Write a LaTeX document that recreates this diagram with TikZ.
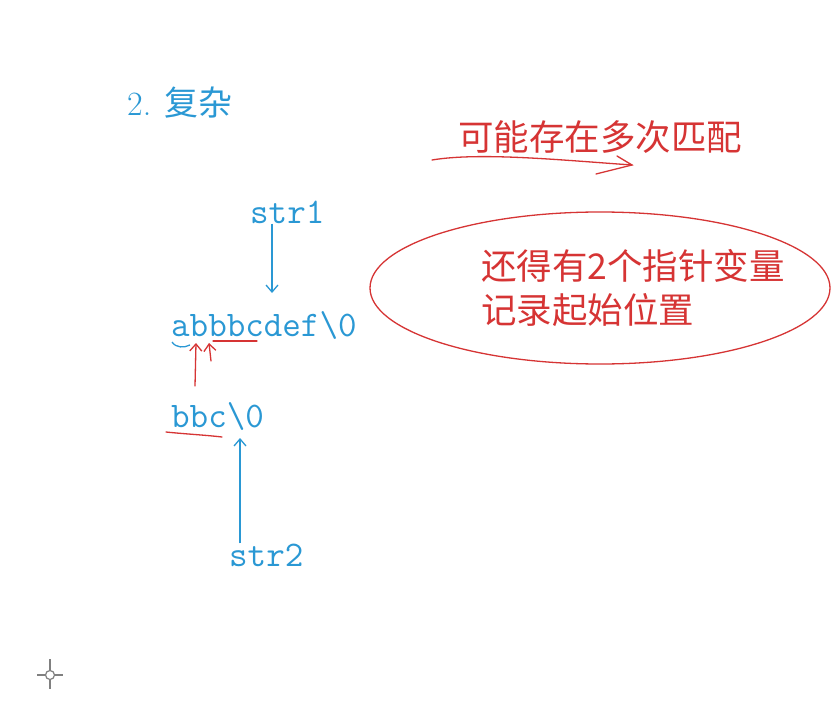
\documentclass[tikz,border=0pt]{standalone}
\usepackage{fontspec}
\newfontfamily\cjk{Noto Sans CJK SC}
\usepackage{tikz}
\usetikzlibrary{arrows.meta,shapes.geometric,calc}
\definecolor{penblue}{RGB}{42,152,212}
\definecolor{penred}{RGB}{214,52,52}
\tikzset{
  code/.style={inner sep=0pt,anchor=west,text=penblue,font=\fontsize{36}{36}\selectfont\ttfamily},
  note/.style={inner sep=0pt,anchor=west,text=penred,font=\fontsize{35.5}{44}\selectfont\cjk},
  bluepen/.style={draw=penblue,line width=1.3pt},
  redpen/.style={draw=penred,line width=1.3pt,line cap=round},
  barb/.style={-{Straight Barb[length=7pt,width=12pt]}}
}
\begin{document}
\begin{tikzpicture}[x=1pt,y=-1pt]
\useasboundingbox[fill=white] (0,0) rectangle (840,722);
% heading
\node[inner sep=0pt,anchor=west,text=penblue,font=\fontsize{34}{34}\selectfont] (title) at (127,103) {2. {\cjk 复杂}};
% the two strings
\node[code] (str1) at (250,212) {str1};
\node[code] (text) at (171,326) {abbbcdef\textbackslash0};
\node[code] (sub) at (171,416) {bbc\textbackslash0};
\node[code] (str2) at (229,555) {str2};
\coordinate (hit1) at (272,293);
\coordinate (hit2) at (240,438);
\draw[bluepen,barb] (str1.south -| hit1) -- (hit1);
\draw[bluepen,barb] (str2.north -| hit2) -- (hit2);
\draw[bluepen] (172,342) .. controls (176,348) and (184,348) .. (190,345);
% red marks
\draw[redpen] (213,341) -- (257,341);
\draw[redpen] (166,432) .. controls (185,434) and (205,435) .. (222,437);
\coordinate (p1) at (196,343);
\coordinate (p2) at (209,343);
\draw[redpen,barb] (195,386) -- (p1);
\draw[redpen,barb] (211,361) -- (p2);
% remark with arrow
\node[note] (many) at (458,137) {可能存在多次匹配};
\coordinate (tip) at (632,165);
\draw[redpen] (432,160) .. controls (480,152) and (560,160) .. (tip);
\draw[redpen] (617,156) -- (tip) -- (596,174);
% ellipse remark
\node[ellipse,draw=penred,line width=1.3pt,minimum width=460pt,minimum height=152pt] (oval) at (600,288) {};
\node[note,align=left] (ptrs) at (481,288) {还得有2个指针变量\\记录起始位置};
% cursor mark
\coordinate (cur) at (50,675);
\draw[gray,line width=1.2pt] (cur) circle (4.5);
\draw[gray,line width=1.2pt] ($(cur)+(-13,0)$) -- ($(cur)+(-5,0)$) ($(cur)+(5,0)$) -- ($(cur)+(13,0)$)
  ($(cur)+(0,-16)$) -- ($(cur)+(0,-5)$) ($(cur)+(0,5)$) -- ($(cur)+(0,14)$);
\end{tikzpicture}
\end{document}
